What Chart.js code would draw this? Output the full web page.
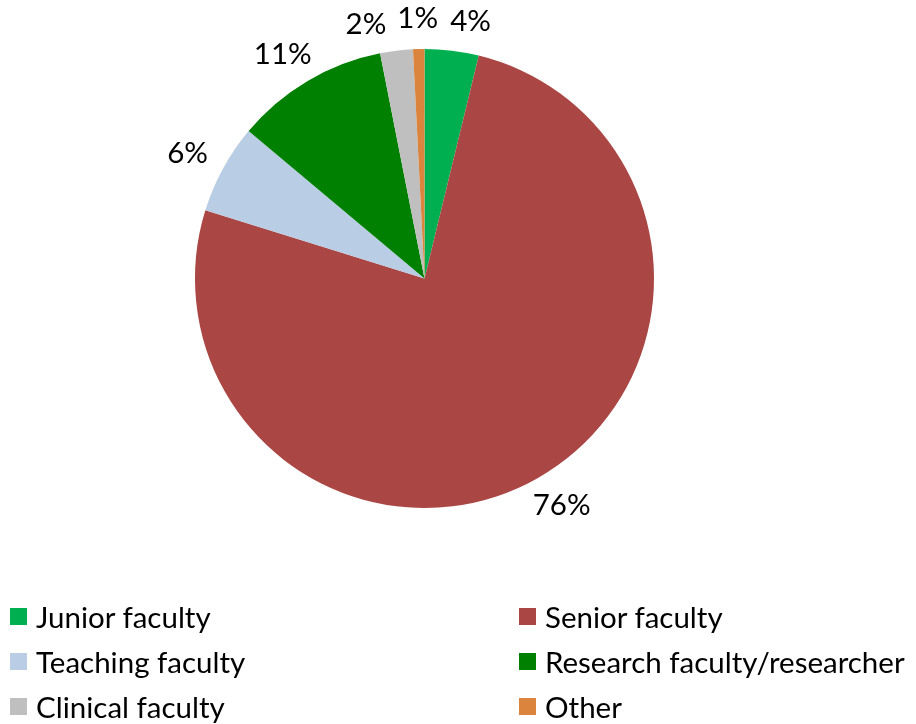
<!DOCTYPE html>
<html>
<head>
<meta charset="utf-8">
<script src="https://cdn.jsdelivr.net/npm/chart.js@4.4.1/dist/chart.umd.min.js"></script>
<style>
  html, body { margin: 0; padding: 0; background: #fff; }
  #wrap { position: relative; width: 916px; height: 724px; }
  #pie { position: absolute; left: 0; top: 0; }
  .legend-item {
    position: absolute;
    display: flex;
    align-items: center;
    height: 17px;
    font-family: Lato, "Open Sans", sans-serif;
    font-size: 29.5px;
    color: #000;
    white-space: nowrap;
  }
  .legend-item .swatch { width: 17px; height: 17px; margin-right: 9px; flex: none; }
</style>
</head>
<body>
<div id="wrap">
  <canvas id="pie" width="916" height="724"></canvas>
</div>
<script>
// categories and shares (percent)
const categories = ['Junior faculty', 'Senior faculty', 'Teaching faculty',
                    'Research faculty/researcher', 'Clinical faculty', 'Other'];
const shares = [3.8, 76.0, 6.3, 10.8, 2.3, 0.8];
const sliceColors = ['#00B050', '#AA4643', '#B9CDE5', '#008000', '#BFBFBF', '#DB843D'];

const FONT = '29.5px Lato, "Open Sans", sans-serif';

// Excel style outside-end labels with a simple overlap nudge
const outsideLabels = {
    id: 'outsideLabels',
    afterDatasetsDraw(chart) {
        const ctx = chart.ctx;
        const meta = chart.getDatasetMeta(0);
        const data = chart.data.datasets[0].data;
        const total = data.reduce((a, b) => a + b, 0);
        const pad = 20;
        const gap = 10; // spacing kept between neighbouring labels
        const placed = [];

        ctx.save();
        ctx.font = FONT;
        ctx.fillStyle = '#000';
        ctx.textAlign = 'center';
        ctx.textBaseline = 'middle';

        const boxAt = (arc, ang, w, h) => {
            const dx = Math.cos(ang), dy = Math.sin(ang);
            const r = arc.outerRadius + pad;
            const cx = arc.x + dx * r + dx * w / 2;
            const cy = arc.y + dy * r + dy * h / 2;
            return { cx, cy, x1: cx - w / 2, x2: cx + w / 2, y1: cy - h / 2, y2: cy + h / 2 };
        };
        const hits = (a, b) => a.x1 < b.x2 + gap && b.x1 < a.x2 + gap && a.y1 < b.y2 && b.y1 < a.y2;

        // place small trailing slices first, like the reference
        for (let i = meta.data.length - 1; i >= 0; i--) {
            const arc = meta.data[i];
            const text = Math.round(data[i] / total * 100) + '%';
            const w = ctx.measureText(text).width;
            const h = 22;
            const mid = (arc.startAngle + arc.endAngle) / 2;
            let ang = mid;
            let box = boxAt(arc, ang, w, h);
            let n = 0;
            while (n < 120) {
                const other = placed.find(p => hits(p.box, box));
                if (!other) break;
                const diff = Math.atan2(Math.sin(mid - other.mid), Math.cos(mid - other.mid));
                ang += (diff < 0 ? -1 : 1) * Math.PI / 360;
                box = boxAt(arc, ang, w, h);
                n++;
            }
            placed.push({ box, mid });
            ctx.fillText(text, box.cx, box.cy);
        }
        ctx.restore();
    }
};

new Chart(document.getElementById('pie'), {
    type: 'pie',
    data: {
        labels: categories,
        datasets: [{
            data: shares,
            backgroundColor: sliceColors,
            borderWidth: 0
        }]
    },
    options: {
        responsive: false,
        animation: false,
        layout: { padding: { left: 195, right: 262, top: 49, bottom: 216 } },
        plugins: {
            legend: { display: false },
            tooltip: { enabled: false }
        }
    },
    plugins: [outsideLabels]
});

// two column legend under the pie
const wrap = document.getElementById('wrap');
categories.forEach((name, i) => {
    const item = document.createElement('div');
    item.className = 'legend-item';
    item.style.left = (i % 2 === 0 ? 10 : 519) + 'px';
    item.style.top = (608 + Math.floor(i / 2) * 45) + 'px';
    const sw = document.createElement('span');
    sw.className = 'swatch';
    sw.style.background = sliceColors[i];
    const label = document.createElement('span');
    label.textContent = name;
    item.appendChild(sw);
    item.appendChild(label);
    wrap.appendChild(item);
});
</script>
</body>
</html>
